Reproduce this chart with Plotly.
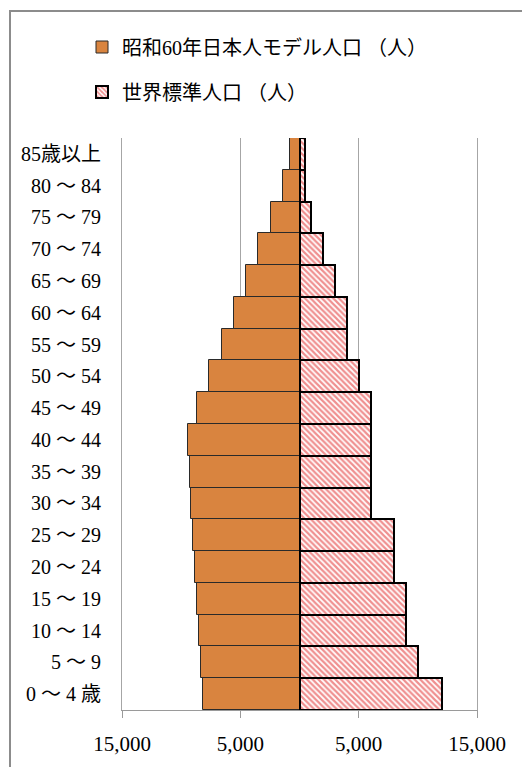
import plotly.graph_objects as go

ages = ["0 ～ 4 歳", "5 ～ 9", "10 ～ 14", "15 ～ 19", "20 ～ 24", "25 ～ 29",
        "30 ～ 34", "35 ～ 39", "40 ～ 44", "45 ～ 49", "50 ～ 54", "55 ～ 59",
        "60 ～ 64", "65 ～ 69", "70 ～ 74", "75 ～ 79", "80 ～ 84", "85歳以上"]
japan_s60 = [8180, 8338, 8497, 8655, 8814, 8972, 9130, 9289, 9400, 8651,
             7616, 6581, 5546, 4511, 3476, 2441, 1406, 784]
world_std = [12000, 10000, 9000, 9000, 8000, 8000, 6000, 6000, 6000, 6000,
             5000, 4000, 4000, 3000, 2000, 1000, 500, 500]
name_japan = "昭和60年日本人モデル人口 （人）"
name_world = "世界標準人口 （人）"
tick_vals = [-15000, -5000, 5000, 15000]
tick_text = ["15,000", "5,000", "5,000", "15,000"]

FONT = "Liberation Serif, Noto Sans CJK JP, sans-serif"

fig = go.Figure()
fig.add_trace(go.Bar(
    y=ages, x=[-v for v in japan_s60], orientation="h", name=name_japan,
    marker=dict(color="#D9843F", line=dict(color="#2a2a2a", width=1)),
    legend="legend",
))
fig.add_trace(go.Bar(
    y=ages, x=world_std, orientation="h", name=name_world,
    marker=dict(color="white", line=dict(color="black", width=2),
                pattern=dict(shape="\\", fgcolor="#E02020", bgcolor="white",
                             size=4, solidity=0.55)),
    legend="legend2",
))

# page body has an 8px margin, so the figure is 8px smaller than the window
W, H = 522, 759
L, R, T, B = 114, 53, 130, 57
PW, PH = W - L - R, H - T - B

def px_x(p):
    return (p - L) / PW

def px_y(p):
    return (H - B - p) / PH

fig.update_layout(
    width=W, height=H,
    margin=dict(l=L, r=R, t=T, b=B, autoexpand=False),
    paper_bgcolor="white", plot_bgcolor="white",
    barmode="overlay", bargap=0,
    font=dict(family=FONT, size=20, color="black"),
    legend=dict(x=px_x(74), xanchor="left", y=px_y(39), yanchor="middle",
                font=dict(size=20), bgcolor="rgba(0,0,0,0)"),
    legend2=dict(x=px_x(74), xanchor="left", y=px_y(84), yanchor="middle",
                 font=dict(size=20), bgcolor="rgba(0,0,0,0)"),
    xaxis=dict(range=[-15000, 15000], tickvals=tick_vals, ticktext=tick_text,
               showgrid=True, gridcolor="#A6A6A6", gridwidth=1,
               zeroline=False, showline=True, linecolor="#9a9a9a", linewidth=1,
               ticks="outside", ticklen=7, tickcolor="#9a9a9a",
               tickfont=dict(size=21), ticklabelstandoff=8, automargin=False),
    yaxis=dict(showgrid=False, zeroline=False, showline=True, mirror=True,
               linecolor="#A6A6A6", linewidth=1, ticks="",
               tickfont=dict(size=20), ticklabelstandoff=16, automargin=False),
    shapes=[dict(type="rect", xref="paper", yref="paper",
                 x0=px_x(2), x1=px_x(540), y0=px_y(780), y1=px_y(3),
                 line=dict(color="#8c8c8c", width=2), layer="below")],
    showlegend=True,
)

fig.write_html("out.html")
